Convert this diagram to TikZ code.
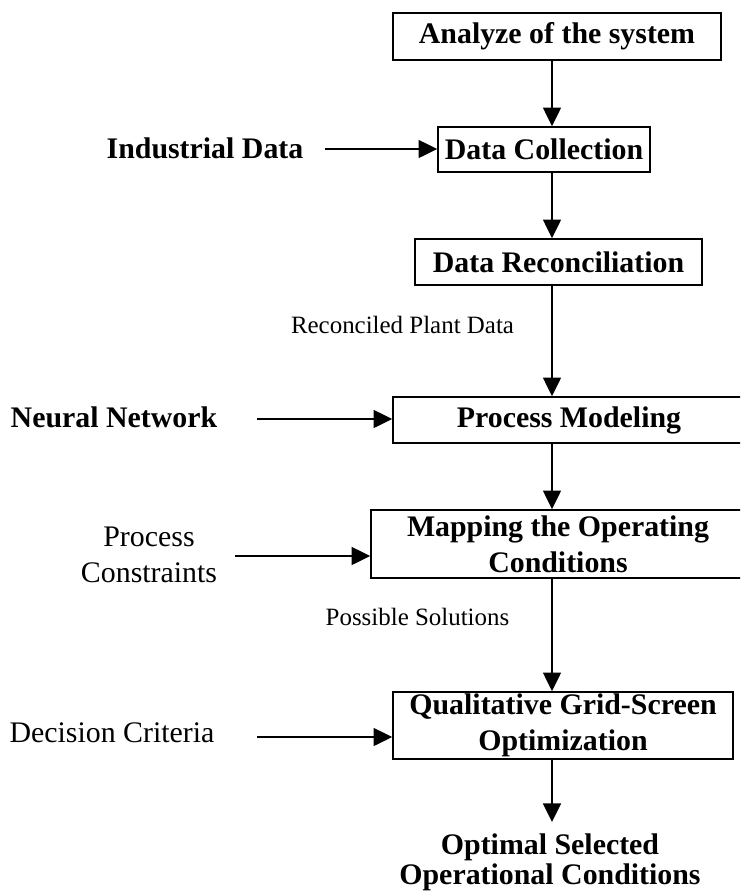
\documentclass[tikz,border=0pt]{standalone}
\usepackage{fontspec}
\setmainfont{Liberation Serif}
\usetikzlibrary{arrows.meta}
\tikzset{
  box/.style={draw, line width=1.2pt, inner sep=0pt, align=center,
    font=\fontsize{22.4}{27}\selectfont\bfseries},
  bigbold/.style={inner sep=0pt, align=center, font=\fontsize{22.4}{27}\selectfont\bfseries},
  outtext/.style={inner sep=0pt, align=center, font=\fontsize{22.4}{22.5}\selectfont\bfseries},
  bigreg/.style={inner sep=0pt, align=center, font=\fontsize{22.4}{27.5}\selectfont},
  smallreg/.style={inner sep=0pt, align=center, font=\fontsize{18.7}{22}\selectfont},
  arr/.style={line width=1.2pt, -{Triangle[length=14pt,width=13.5pt]}}
}
\begin{document}
\begin{tikzpicture}[x=0.75pt, y=-0.75pt]
\useasboundingbox (0,0) rectangle (740,893);
\clip (0,0) rectangle (740,893);
\coordinate (spine) at (552,0);
% boxes
\node[box, minimum width=246pt, minimum height=35.25pt] (b1) at (557,36.5) {Analyze of the system};
\node[box, minimum width=159pt, minimum height=33.75pt] (b2) at (544,149.5) {Data Collection};
\node[box, minimum width=215.25pt, minimum height=34.5pt] (b3) at (558.5,262) {Data Reconciliation};
\node[box, minimum width=264pt, minimum height=34.5pt] (b4) at (569,420) {Process Modeling};
\node[box, minimum width=280.5pt, minimum height=51pt] (b5) at (558,544) {Mapping the Operating\\Conditions};
\node[box, minimum width=255pt, minimum height=50.25pt] (b6) at (563,725.5) {Qualitative Grid-Screen\\Optimization};
\node[outtext, anchor=north] (out) at (550,833) {Optimal Selected\\Operational Conditions};
% side labels
\node[bigbold] (ind) at (205,148) {Industrial Data};
\node[bigbold] (nn) at (114,417) {Neural Network};
\node[bigreg] (pc) at (149,555) {Process\\Constraints};
\node[bigreg] (dc) at (112,733) {Decision Criteria};
\node[smallreg] (rpd) at (402.5,325) {Reconciled Plant Data};
\node[smallreg] (ps) at (417.5,617) {Possible Solutions};
% arrow starts
\coordinate (s1) at (325,149);
\coordinate (s2) at (257,419);
\coordinate (s3) at (235,556);
\coordinate (s4) at (257,737);
\coordinate (e7) at (552,822);
% vertical arrows
\draw[arr] (b1.south -| spine) -- (b2.north -| spine);
\draw[arr] (b2.south -| spine) -- (b3.north -| spine);
\draw[arr] (b3.south -| spine) -- (b4.north -| spine);
\draw[arr] (b4.south -| spine) -- (b5.north -| spine);
\draw[arr] (b5.south -| spine) -- (b6.north -| spine);
\draw[arr] (b6.south -| spine) -- (e7);
% horizontal arrows
\draw[arr] (s1) -- (s1 -| b2.west);
\draw[arr] (s2) -- (s2 -| b4.west);
\draw[arr] (s3) -- (s3 -| b5.west);
\draw[arr] (s4) -- (s4 -| b6.west);
\end{tikzpicture}
\end{document}
